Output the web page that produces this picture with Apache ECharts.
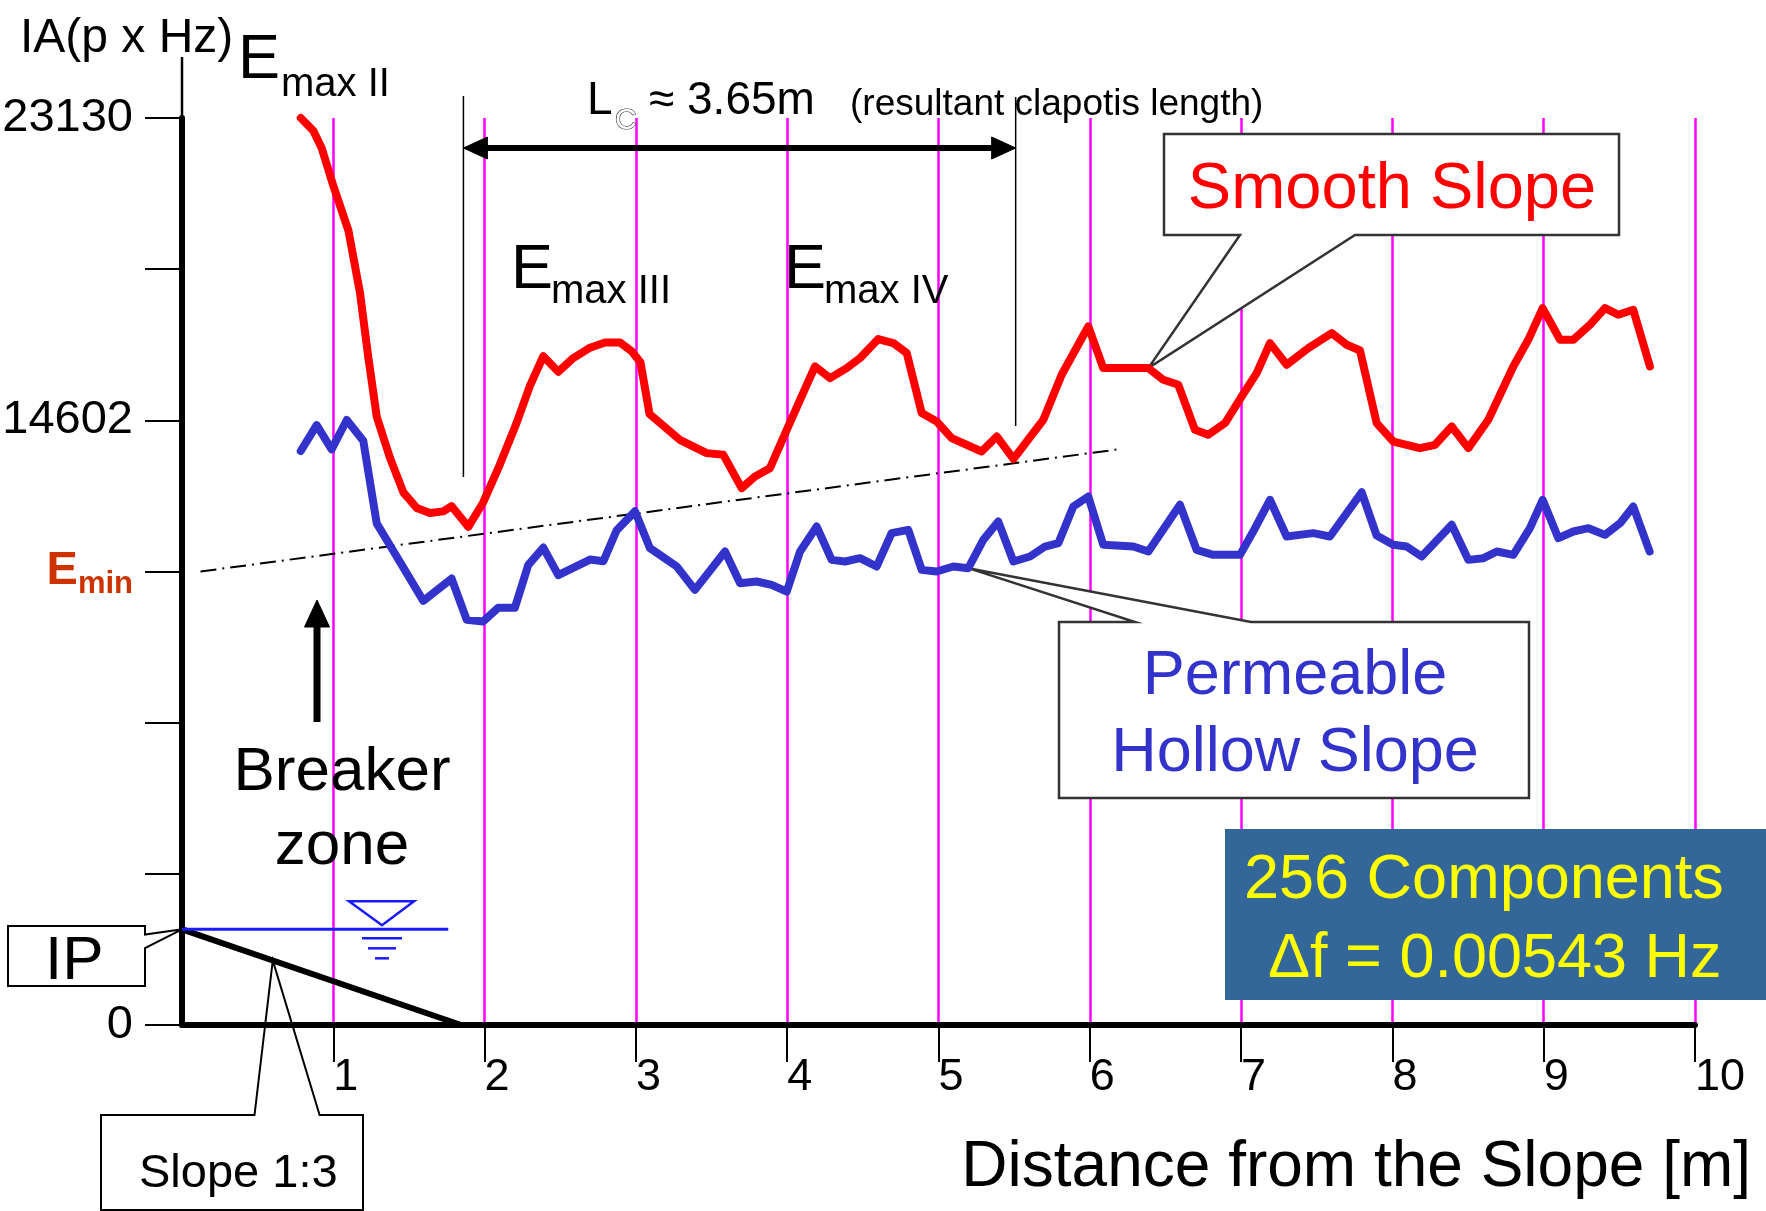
<!DOCTYPE html>
<html>
<head>
<meta charset="utf-8">
<title>Spatial energy distribution in front of the slope</title>
<script src="https://cdn.jsdelivr.net/npm/echarts@6/dist/echarts.min.js"></script>
<style>
  html, body { margin: 0; padding: 0; background: #ffffff; }
  #chart { width: 1766px; height: 1211px; }
</style>
</head>
<body>
<div id="chart"></div>
<script>
// ---- data -------------------------------------------------------------
// Distance from the slope [m] (x) and integrated amplitude IA (y)
const distanceTicks = [1, 2, 3, 4, 5, 6, 7, 8, 9, 10];
const iaMax = 23130;
const iaTickLabels = ['0', '', '', 'Emin', '14602', '', '23130'];

const smoothSlope = [
  [0.785, 23130], [0.868, 22806], [0.923, 22367], [1.0, 21400], [1.10, 20258],
  [1.176, 18679], [1.232, 17008], [1.287, 15515], [1.375, 14462], [1.463, 13582],
  [1.551, 13186], [1.639, 13056], [1.727, 13099], [1.782, 13232], [1.892, 12704],
  [1.99, 13319], [2.10, 14286], [2.21, 15339], [2.30, 16306], [2.388, 17054],
  [2.487, 16658], [2.586, 17008], [2.697, 17273], [2.796, 17403], [2.895, 17403],
  [2.972, 17184], [3.03, 16900], [3.09, 15580], [3.29, 14923], [3.468, 14584],
  [3.578, 14541], [3.699, 13691], [3.787, 13988], [3.886, 14201], [3.997, 15178],
  [4.085, 15944], [4.184, 16794], [4.283, 16497], [4.393, 16752], [4.481, 17007],
  [4.602, 17492], [4.701, 17390], [4.79, 17135], [4.889, 15605], [4.988, 15390],
  [5.087, 14967], [5.285, 14625], [5.385, 15008], [5.495, 14435], [5.693, 15434],
  [5.814, 16582], [5.99, 17814], [6.089, 16752], [6.233, 16752], [6.387, 16752],
  [6.486, 16454], [6.585, 16326], [6.695, 15178], [6.783, 15051], [6.894, 15350],
  [7.004, 16028], [7.103, 16625], [7.191, 17390], [7.301, 16837], [7.444, 17262],
  [7.599, 17645], [7.698, 17347], [7.786, 17200], [7.896, 15350], [8.006, 14880],
  [8.182, 14711], [8.282, 14796], [8.392, 15263], [8.502, 14711], [8.634, 15434],
  [8.799, 16794], [8.898, 17474], [8.993, 18283], [9.108, 17474], [9.196, 17474],
  [9.306, 17857], [9.405, 18283], [9.493, 18112], [9.592, 18240], [9.702, 16794]
];

const permeableHollowSlope = [
  [0.785, 14638], [0.89, 15296], [0.989, 14681], [1.089, 15428], [1.198, 14900],
  [1.287, 12791], [1.397, 12089], [1.595, 10816], [1.782, 11385], [1.882, 10332],
  [1.99, 10288], [2.09, 10640], [2.20, 10640], [2.289, 11737], [2.388, 12176],
  [2.487, 11474], [2.697, 11870], [2.785, 11826], [2.873, 12617], [2.994, 13099],
  [3.093, 12160], [3.27, 11692], [3.39, 11097], [3.589, 12075], [3.688, 11268],
  [3.798, 11310], [3.897, 11224], [3.997, 11054], [4.085, 12075], [4.195, 12712],
  [4.294, 11862], [4.382, 11820], [4.481, 11905], [4.591, 11692], [4.69, 12543],
  [4.80, 12627], [4.889, 11607], [4.988, 11565], [5.098, 11692], [5.197, 11650],
  [5.296, 12372], [5.395, 12839], [5.495, 11820], [5.605, 11947], [5.704, 12202],
  [5.792, 12288], [5.891, 13222], [5.99, 13477], [6.089, 12245], [6.288, 12202],
  [6.387, 12075], [6.596, 13265], [6.706, 12117], [6.816, 11990], [6.993, 11990],
  [7.092, 12670], [7.191, 13393], [7.301, 12457], [7.477, 12543], [7.587, 12457],
  [7.797, 13584], [7.896, 12480], [8.006, 12245], [8.094, 12202], [8.193, 11947],
  [8.392, 12755], [8.502, 11862], [8.602, 11905], [8.69, 12075], [8.799, 11990],
  [8.909, 12670], [8.993, 13393], [9.097, 12415], [9.196, 12585], [9.296, 12670],
  [9.405, 12500], [9.505, 12798], [9.592, 13222], [9.70, 12075]
];

// rising lower envelope starting at the Emin level
const eminTrend = [[0.122, 11565], [6.2, 14686]];
// 1:3 slope profile from the intersection point IP and still water level
const slopeProfile = [[0, 2440], [1.845, 0]];
const stillWaterLevel = [[0, 2440], [1.76, 2440]];
// resultant clapotis length
const clapotisStart = 1.86;
const clapotisLength = 3.65;
// points the two callouts refer to
const smoothCalloutX = 6.387;
const permeableCalloutX = 5.197;

// ---- styling ----------------------------------------------------------
const FONT = '"Liberation Sans", Arial, Helvetica, sans-serif';
const RED = '#ff0000';
const BLUE = '#3333cc';
const EMIN_COLOR = '#cc3300';
const iaStep = iaMax / 6;

const chart = echarts.init(document.getElementById('chart'), null, { renderer: 'canvas' });

const option = {
  backgroundColor: '#ffffff',
  animation: false,
  grid: { left: 182, right: 71, top: 118, bottom: 186, outerBoundsMode: 'none' },
  xAxis: {
    type: 'value', min: 0, max: 10, interval: 1,
    axisLine: { show: true, onZero: false, lineStyle: { color: '#000', width: 6 } },
    axisTick: { show: true, length: 37, customValues: distanceTicks, lineStyle: { color: '#000', width: 2 } },
    axisLabel: {
      show: true, customValues: distanceTicks, align: 'left', margin: 30,
      fontSize: 45, fontFamily: FONT, color: '#000',
      formatter: v => String(v)
    },
    splitLine: { show: true, lineStyle: { color: '#ff00ff', width: 2.5 } }
  },
  yAxis: {
    type: 'value', min: 0, max: iaMax, interval: iaStep,
    axisLine: { show: true, lineStyle: { color: '#000', width: 6 } },
    axisTick: { show: true, length: 37, lineStyle: { color: '#000', width: 2 } },
    axisLabel: {
      show: true, margin: 49, fontSize: 47, fontFamily: FONT, color: '#000',
      formatter: v => {
        const label = iaTickLabels[Math.round(v / iaStep)] || '';
        return label === 'Emin' ? '{e|E}{s|min}' : label;
      },
      rich: {
        e: { fontSize: 47, fontWeight: 'bold', fontFamily: FONT, color: EMIN_COLOR },
        s: { fontSize: 31, fontWeight: 'bold', fontFamily: FONT, color: EMIN_COLOR, padding: [26, 0, 0, 0] }
      }
    },
    splitLine: { show: false }
  },
  series: [
    {
      name: 'Smooth Slope', type: 'line', data: smoothSlope, clip: false,
      showSymbol: false, symbol: 'none', z: 5,
      lineStyle: { color: RED, width: 8, join: 'round', cap: 'round' }
    },
    {
      name: 'Permeable Hollow Slope', type: 'line', data: permeableHollowSlope, clip: false,
      showSymbol: false, symbol: 'none', z: 5,
      lineStyle: { color: BLUE, width: 8, join: 'round', cap: 'round' }
    },
    {
      name: 'Emin trend', type: 'line', data: eminTrend, clip: false,
      showSymbol: false, symbol: 'none', z: 4,
      lineStyle: { color: '#000', width: 2, type: [16, 6, 2, 6] }
    },
    {
      name: 'Slope 1:3', type: 'line', data: slopeProfile, clip: false,
      showSymbol: false, symbol: 'none', z: 4,
      lineStyle: { color: '#000', width: 6 }
    },
    {
      name: 'SWL', type: 'line', data: stillWaterLevel, clip: false,
      showSymbol: false, symbol: 'none', z: 4,
      lineStyle: { color: '#1a1aff', width: 3 }
    }
  ]
};

chart.setOption(option);

// ---- annotations, anchored through the axes ----------------------------
const px = (x, y) => chart.convertToPixel({ gridIndex: 0 }, [x, y]);

// y is the visual centre of the capitals; the canvas "middle" sits a bit higher
function text(x, y, str, size, opts) {
  return {
    type: 'text', x: x, y: y + 0.08 * size, z: 20,
    style: Object.assign({
      text: str, fontSize: size, fontFamily: FONT, fill: '#000',
      align: 'left', verticalAlign: 'middle'
    }, (opts && opts.style) || {})
  };
}
function line(x1, y1, x2, y2, width, color, z) {
  return { type: 'line', z: z || 10, shape: { x1, y1, x2, y2 },
    style: { stroke: color || '#000', lineWidth: width } };
}
function poly(points, fill, stroke, width, z) {
  return { type: 'polygon', z: z || 10, shape: { points },
    style: { fill: fill, stroke: stroke, lineWidth: width || 0 } };
}

const axisTop = px(0, iaMax);
const lcA = px(clapotisStart, 0)[0];
const lcB = px(clapotisStart + clapotisLength, 0)[0];
const smoothTip = px.apply(null, smoothSlope.find(p => p[0] === smoothCalloutX));
const permTip = px.apply(null, permeableHollowSlope.find(p => p[0] === permeableCalloutX));
const ip = px(slopeProfile[0][0], slopeProfile[0][1]);
const slopeMark = px(0.6, slopeProfile[0][1] * (1 - 0.6 / slopeProfile[1][0]));

const arrowY = 148;
const swlX = ip[0] + 200;   // still-water symbol
const swlY = ip[1];

const elements = [
  // thin upward continuation of the IA axis
  line(axisTop[0], 57, axisTop[0], axisTop[1], 2.5, '#000', 10),

  // axis titles
  text(20, 35, 'IA(p x Hz)', 48),
  text(1751, 1163, 'Distance from the Slope [m]', 64, { style: { align: 'right' } }),

  // energy maxima
  text(238, 56, 'E', 63), text(281, 82, 'max II', 40),
  text(511, 266, 'E', 63), text(551, 289, 'max III', 40),
  text(784, 266, 'E', 63), text(824, 289, 'max IV', 40),

  // clapotis length
  line(lcA, 96, lcA, 477, 1.5),
  line(lcB, 97, lcB, 426, 1.5),
  line(lcA + 20, arrowY, lcB - 20, arrowY, 6),
  poly([[lcA, arrowY], [lcA + 24, arrowY - 11], [lcA + 24, arrowY + 11]], '#000', '#000', 1),
  poly([[lcB, arrowY], [lcB - 24, arrowY - 11], [lcB - 24, arrowY + 11]], '#000', '#000', 1),
  text(587, 98, 'L', 46),
  text(615, 118, 'C', 30, { style: { fill: '#ffffff', stroke: '#333', lineWidth: 1.2 } }),
  text(649, 98, '\u2248 ' + clapotisLength + 'm', 46),
  text(850, 102, '(resultant clapotis length)', 37),

  // Smooth Slope callout
  poly([[1164, 134], [1619, 134], [1619, 235], [1355, 235], smoothTip, [1240, 235], [1164, 235]],
       '#ffffff', '#333', 2.5, 3),
  text(1392, 185, 'Smooth Slope', 65, { style: { fill: RED, align: 'center' } }),

  // Permeable Hollow Slope callout
  poly([[1059, 622], [1135, 622], permTip, [1251, 622], [1529, 622], [1529, 798], [1059, 798]],
       '#ffffff', '#333', 2.5, 3),
  text(1295, 672, 'Permeable', 63, { style: { fill: BLUE, align: 'center' } }),
  text(1295, 749, 'Hollow Slope', 63, { style: { fill: BLUE, align: 'center' } }),

  // spectral resolution box
  { type: 'rect', z: 3, shape: { x: 1225, y: 829, width: 541, height: 171 }, style: { fill: '#336699' } },
  text(1244, 876, '256 Components', 63, { style: { fill: '#ffff00' } }),
  text(1268, 955, '\u0394f = 0.00543 Hz', 63, { style: { fill: '#ffff00' } }),

  // breaker zone
  line(317, 622, 317, 722, 7),
  poly([[317, 600], [304.5, 627], [329.5, 627]], '#000', '#000', 1),
  text(342, 768, 'Breaker', 62, { style: { align: 'center' } }),
  text(342, 842, 'zone', 62, { style: { align: 'center' } }),

  // still water symbol
  poly([[swlX - 33, swlY - 28], [swlX + 32, swlY - 28], [swlX, swlY - 4]], null, '#1a1aff', 2.5, 10),
  line(swlX - 20, swlY + 9, swlX + 20, swlY + 9, 2.5, '#1a1aff'),
  line(swlX - 14, swlY + 19, swlX + 14, swlY + 19, 2.5, '#1a1aff'),
  line(swlX - 7, swlY + 29, swlX + 7, swlY + 29, 2.5, '#1a1aff'),

  // IP callout
  poly([[145, 926], [8, 926], [8, 986], [145, 986], [145, 948], ip, [145, 934.5]],
       '#ffffff', '#000', 2, 3),
  text(45, 957, 'IP', 62),

  // slope callout
  poly([[101, 1210], [101, 1115], [254.5, 1115], slopeMark, [319.6, 1115], [363, 1115], [363, 1210]],
       null, '#000', 2, 3),
  text(139, 1170, 'Slope 1:3', 47)
];

chart.setOption({ graphic: { elements: elements } });
</script>
</body>
</html>
